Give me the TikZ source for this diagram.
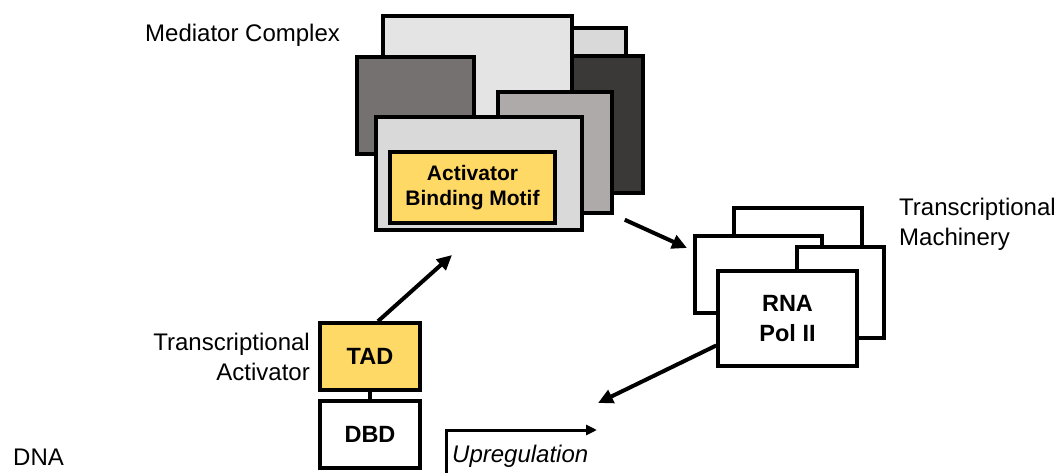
\documentclass[tikz,border=0pt]{standalone}
\usepackage{fontspec}
\setmainfont{Liberation Sans}
\usetikzlibrary{arrows.meta}
\definecolor{medA}{HTML}{E4E4E4}
\definecolor{medB}{HTML}{D9D9D9}
\definecolor{medC}{HTML}{3B3838}
\definecolor{medD}{HTML}{767171}
\definecolor{medE}{HTML}{AEAAAA}
\definecolor{medF}{HTML}{D9D9D9}
\definecolor{motif}{HTML}{FFD966}
\begin{document}
\begin{tikzpicture}[x=1pt,y=-1pt,
  box/.style={draw=black, line width=3.5pt, inner sep=0pt},
  lbl/.style={font=\fontsize{24}{30}\selectfont, inner sep=0pt},
  boxtxt/.style={font=\bfseries\fontsize{23.5}{30}\selectfont, align=center},
  arr/.style={line width=4pt, -{Triangle[length=15pt,width=14pt]}},
]
\useasboundingbox (0,0) rectangle (1060,473);

% Mediator complex
\node[box, fill=medB, minimum width=126pt, minimum height=62pt] (mB) at (563,59) {};
\node[box, fill=medC, minimum width=83pt, minimum height=137pt] (mC) at (601.5,124.5) {};
\node[box, fill=medA, minimum width=189pt, minimum height=114pt] (mA) at (477.5,73) {};
\node[box, fill=medD, minimum width=117pt, minimum height=97pt] (mD) at (415.5,105.5) {};
\node[box, fill=medE, minimum width=114pt, minimum height=121pt] (mE) at (555,152.5) {};
\node[box, fill=medF, minimum width=206pt, minimum height=113pt] (mF) at (479,173.5) {};
\node[box, fill=motif, minimum width=165pt, minimum height=71pt, boxtxt,
      font=\bfseries\fontsize{21}{25}\selectfont] (motif) at (472.5,187.5)
      {Activator\\Binding Motif};

% Transcriptional machinery
\node[box, fill=white, minimum width=128pt, minimum height=62pt] (m1) at (798,239) {};
\node[box, fill=white, minimum width=127pt, minimum height=77pt] (m2) at (758.5,274.5) {};
\node[box, fill=white, minimum width=87pt, minimum height=91pt] (m3) at (840.5,292.5) {};
\node[box, fill=white, minimum width=139pt, minimum height=95pt, boxtxt] (pol) at (787.5,318.5) {RNA\\Pol II};

% Activator
\node[box, fill=motif, minimum width=100pt, minimum height=67pt, boxtxt] (TAD) at (370,356.5) {TAD};
\node[box, fill=white, minimum width=100pt, minimum height=67pt, boxtxt] (DBD) at (370,434.5) {DBD};
\draw[line width=4pt] (TAD) -- (DBD);

% Labels
\node[lbl, anchor=base west] (lmed) at (145,42) {Mediator Complex};
\node[lbl, anchor=base west] (lmach) at (899,215)
  {\begin{tabular}[t]{@{}l@{}}Transcriptional\\Machinery\end{tabular}};
\node[lbl, anchor=base east] (lact) at (310,350)
  {\begin{tabular}[t]{@{}r@{}}Transcriptional\\Activator\end{tabular}};
\node[lbl, anchor=base west] (ldna) at (13,465) {DNA};
\node[lbl, anchor=base west, font=\itshape\fontsize{24}{30}\selectfont] (lup) at (452,462) {Upregulation};

% Arrows
\coordinate (t1) at (452,255);
\coordinate (t2) at (687,248);
\coordinate (t3) at (598,403);
\coordinate (u0) at (446,490);
\coordinate (u1) at (597,430);
\draw[arr] ([xshift=8pt]TAD.north) -- (t1);
\draw[arr] ([xshift=11pt,yshift=-5pt]mE.south east) -- (t2);
\draw[arr] ([yshift=-27pt]pol.west) -- (t3);
\draw[line width=3pt, -{Triangle[length=11pt,width=10pt]}] (u0) |- (u1);
\end{tikzpicture}
\end{document}
